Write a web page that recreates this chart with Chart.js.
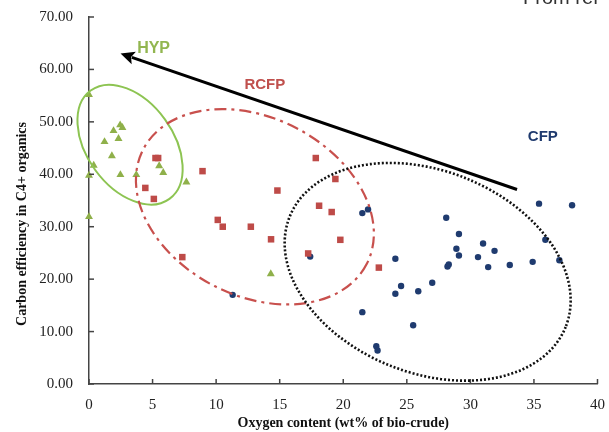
<!DOCTYPE html>
<html><head><meta charset="utf-8">
<script src="https://cdn.jsdelivr.net/npm/chart.js@4/dist/chart.umd.min.js"></script>
<style>html,body{margin:0;padding:0;background:#fff;}#wrap{width:609px;height:432px;position:relative;}</style>
</head><body><div id="wrap"><canvas id="c" width="609" height="432"></canvas></div>
<script>
const xTicks = [0, 5, 10, 15, 20, 25, 30, 35, 40];
const yTicks = [0, 10, 20, 30, 40, 50, 60, 70];
const groupNames = ['HYP', 'RCFP', 'CFP'];
const xTitle = 'Oxygen content (wt% of bio-crude)';
const yTitle = 'Carbon efficiency in C4+ organics';
const sourceNote = 'From ref';

// HYP (triangles)
const hypX = [0, 2.45, 2.63, 1.93, 2.32, 1.22, 1.8, 0.37, 0, 2.47, 3.72, 5.52, 5.84, 7.66, 0, 14.3];
const hypY = [55.2, 49.4, 48.9, 48.3, 46.8, 46.2, 43.5, 41.7, 39.8, 39.9, 39.9, 41.6, 40.3, 38.5, 31.9, 21.0];
// RCFP (squares)
const rcfpX = [5.23, 5.44, 8.93, 4.43, 5.1, 17.84, 19.38, 14.82, 18.1, 19.09, 10.13, 10.52, 12.73, 14.32, 19.77, 17.24, 7.34, 22.8];
const rcfpY = [43.1, 43.1, 40.6, 37.4, 35.3, 43.1, 39.1, 36.9, 34.0, 32.8, 31.3, 30.0, 30.0, 27.6, 27.5, 24.9, 24.2, 22.2];
// CFP (circles)
const cfpX = [11.3, 17.4, 21.5, 21.95, 24.1, 24.55, 24.1, 25.9, 27.0, 21.5, 25.5, 22.6, 22.7, 28.1, 29.1, 28.9, 29.1, 28.3, 28.2, 31.0, 31.9, 30.6, 31.4, 33.1, 34.9, 37.0, 35.9, 35.4, 38.0];
const cfpY = [17.0, 24.3, 32.6, 33.3, 23.9, 18.7, 17.2, 17.7, 19.3, 13.7, 11.2, 7.2, 6.4, 31.7, 28.6, 25.8, 24.5, 22.8, 22.4, 26.8, 25.4, 24.2, 22.3, 22.7, 23.3, 23.6, 27.5, 34.4, 34.1];

const toPts = (xs, ys) => xs.map((x, i) => ({x: x, y: ys[i]}));

// annotation shapes (centre in data units, semi-axes in x-units, rotation in degrees)
const ellipses = [
  {cx: 3.23, cy: 45.65, a: 5.27, b: 3.39, rot: 54, color: '#8dc452', width: 2, dash: []},
  {cx: 13.05, cy: 33.8, a: 9.88, b: 7.0, rot: 27, color: '#c8504d', width: 2.2, dash: [12, 5, 3, 5]},
  {cx: 26.64, cy: 21.4, a: 11.69, b: 7.95, rot: 21.8, color: '#111111', width: 2.6, dash: [2, 2]}
];
const arrow = {x1: 33.67, y1: 37.1, x2: 2.48, y2: 63.05};
const groupLabelPos = [
  {x: 5.08, y: 64.0, color: '#92b650', size: 16},
  {x: 13.83, y: 57.1, color: '#c0504d', size: 15},
  {x: 35.7, y: 47.1, color: '#1f3a6e', size: 15}
];

const annot = {
  id: 'annot',
  afterDraw(chart) {
    const ctx = chart.ctx, xs = chart.scales.x, ys = chart.scales.y, ca = chart.chartArea;
    const pxu = xs.getPixelForValue(1) - xs.getPixelForValue(0);
    ctx.save();
    // inner tick marks
    ctx.strokeStyle = '#444'; ctx.lineWidth = 1.5; ctx.setLineDash([]);
    xTicks.forEach(v => { const p = xs.getPixelForValue(v); ctx.beginPath(); ctx.moveTo(p, ca.bottom); ctx.lineTo(p, ca.bottom - 5); ctx.stroke(); });
    yTicks.forEach(v => { const p = ys.getPixelForValue(v); ctx.beginPath(); ctx.moveTo(ca.left, p); ctx.lineTo(ca.left + 5, p); ctx.stroke(); });
    // ellipses
    ellipses.forEach(e => {
      ctx.beginPath();
      ctx.strokeStyle = e.color; ctx.lineWidth = e.width; ctx.setLineDash(e.dash);
      ctx.ellipse(xs.getPixelForValue(e.cx), ys.getPixelForValue(e.cy), e.a * pxu, e.b * pxu, e.rot * Math.PI / 180, 0, Math.PI * 2);
      ctx.stroke();
    });
    ctx.setLineDash([]);
    // arrow
    const ax1 = xs.getPixelForValue(arrow.x1), ay1 = ys.getPixelForValue(arrow.y1);
    const ax2 = xs.getPixelForValue(arrow.x2), ay2 = ys.getPixelForValue(arrow.y2);
    const ang = Math.atan2(ay2 - ay1, ax2 - ax1);
    const hl = 14, hw = 6.5;
    ctx.strokeStyle = '#000'; ctx.fillStyle = '#000'; ctx.lineWidth = 3;
    ctx.beginPath(); ctx.moveTo(ax1, ay1);
    ctx.lineTo(ax2 - Math.cos(ang) * (hl - 2), ay2 - Math.sin(ang) * (hl - 2)); ctx.stroke();
    ctx.beginPath();
    ctx.moveTo(ax2, ay2);
    ctx.lineTo(ax2 - Math.cos(ang) * hl + Math.sin(ang) * hw, ay2 - Math.sin(ang) * hl - Math.cos(ang) * hw);
    ctx.lineTo(ax2 - Math.cos(ang) * hl * 0.8, ay2 - Math.sin(ang) * hl * 0.8);
    ctx.lineTo(ax2 - Math.cos(ang) * hl - Math.sin(ang) * hw, ay2 - Math.sin(ang) * hl + Math.cos(ang) * hw);
    ctx.closePath(); ctx.fill();
    // group labels
    ctx.textAlign = 'center'; ctx.textBaseline = 'middle';
    groupNames.forEach((n, i) => {
      const g = groupLabelPos[i];
      ctx.fillStyle = g.color;
      ctx.font = 'bold ' + g.size + 'px "Liberation Sans", Arial, sans-serif';
      ctx.fillText(n, xs.getPixelForValue(g.x), ys.getPixelForValue(g.y));
    });
    // axis titles
    ctx.fillStyle = '#111';
    ctx.font = 'bold 14px "Liberation Serif", "Times New Roman", serif';
    ctx.textBaseline = 'middle';
    ctx.fillText(xTitle, (ca.left + ca.right) / 2, 423);
    ctx.save();
    ctx.translate(22, 224); ctx.rotate(-Math.PI / 2);
    ctx.fillText(yTitle, 0, 0);
    ctx.restore();
    // clipped source note at top
    ctx.textAlign = 'left'; ctx.textBaseline = 'alphabetic';
    ctx.fillStyle = '#333';
    ctx.font = '20px "Liberation Sans", Arial, sans-serif';
    ctx.fillText(sourceNote, 523, 4);
    ctx.restore();
  }
};

new Chart(document.getElementById('c').getContext('2d'), {
  type: 'scatter',
  data: {
    datasets: [
      {label: groupNames[0], data: toPts(hypX, hypY), clip: false, pointStyle: 'triangle', pointRadius: 4.6, backgroundColor: '#8fb04a', borderColor: '#8fb04a', borderWidth: 0},
      {label: groupNames[1], data: toPts(rcfpX, rcfpY), clip: false, pointStyle: 'rect', pointRadius: 4.6, backgroundColor: '#be4b48', borderColor: '#be4b48', borderWidth: 0},
      {label: groupNames[2], data: toPts(cfpX, cfpY), clip: false, pointStyle: 'circle', pointRadius: 3.2, backgroundColor: '#1f3b6f', borderColor: '#1f3b6f', borderWidth: 0}
    ]
  },
  options: {
    responsive: false, animation: false, devicePixelRatio: 1,
    layout: {padding: {left: 0, top: 16, right: 8, bottom: 0}},
    plugins: {legend: {display: false}, tooltip: {enabled: false}},
    scales: {
      x: {
        type: 'linear', min: 0, max: 40,
        afterBuildTicks: s => { s.ticks = xTicks.map(v => ({value: v})); },
        grid: {display: false},
        border: {display: true, color: '#444', width: 1.5},
        ticks: {padding: 4, color: '#222', maxRotation: 0, font: {family: '"Liberation Serif", "Times New Roman", serif', size: 15}, callback: v => String(v)},
        afterFit: s => { s.height = 48; }
      },
      y: {
        type: 'linear', min: 0, max: 70,
        afterBuildTicks: s => { s.ticks = yTicks.map(v => ({value: v})); },
        grid: {display: false},
        border: {display: true, color: '#444', width: 1.5},
        ticks: {padding: 8, color: '#222', font: {family: '"Liberation Serif", "Times New Roman", serif', size: 15}, callback: v => Number(v).toFixed(2)},
        afterFit: s => { s.width = 89; }
      }
    }
  },
  plugins: [annot]
});
</script></body></html>
